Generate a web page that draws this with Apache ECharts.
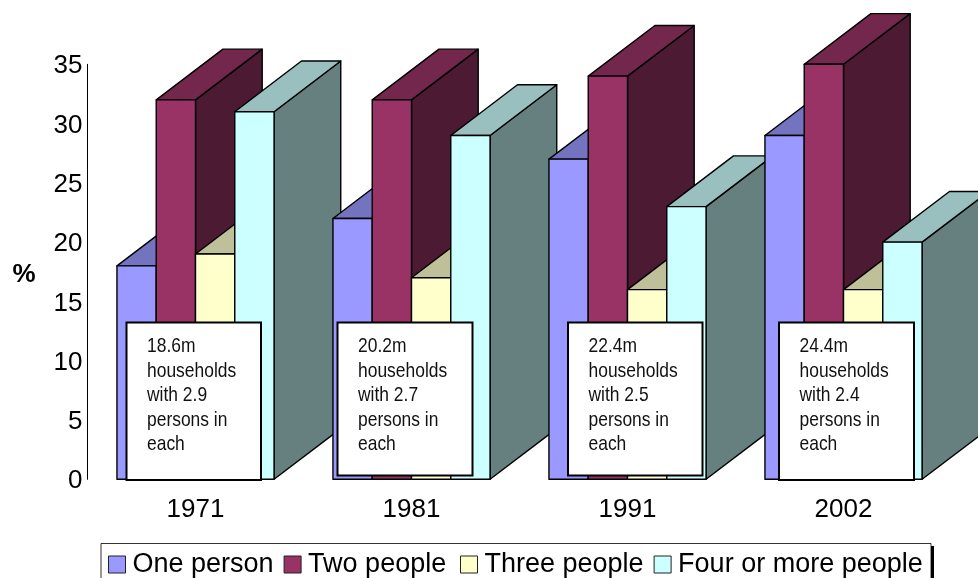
<!DOCTYPE html>
<html>
<head>
<meta charset="utf-8">
<style>html,body{margin:0;padding:0;background:#fff;overflow:hidden}#chart{width:978px;height:578px}</style>
<script src="https://cdn.jsdelivr.net/npm/echarts@6/dist/echarts.min.js"></script>
</head>
<body>
<div id="chart"></div>
<script>
// Household size by census year, share of households (%)
const years = ['1971', '1981', '1991', '2002'];
const onePerson = [18, 22, 27, 29];
const twoPeople = [32, 32, 34, 35];
const threePeople = [19, 17, 16, 16];
const fourOrMore = [31, 29, 23, 20];
const households = ['18.6m', '20.2m', '22.4m', '24.4m'];
const personsEach = ['2.9', '2.7', '2.5', '2.4'];

const seriesNames = ['One person', 'Two people', 'Three people', 'Four or more people'];
const seriesValues = [onePerson, twoPeople, threePeople, fourOrMore];
const faceColors = [
  { front: '#9999FF', top: '#7373BF', side: '#4D4D80' },
  { front: '#993366', top: '#73274D', side: '#4D1A33' },
  { front: '#FFFFCC', top: '#BFBF99', side: '#808066' },
  { front: '#CCFFFF', top: '#99BFBF', side: '#668080' }
];

// Extrusion of the bars and layout of the annotation boxes
const DEPTH_X = 66.7, DEPTH_Y = 50.7, GAP_BARS = 1.5, EDGE = 1.4;
const noteBoxes = [
  { x: 126.5, y: 322.5, w: 134.5, h: 157.5 },
  { x: 337.5, y: 322.5, w: 135, h: 153 },
  { x: 568, y: 322.5, w: 134.5, h: 153 },
  { x: 779, y: 322.5, w: 135, h: 157.5 }
];

function barRenderer(seriesIndex) {
  return function (params, api) {
    const cat = api.value(0);
    const centre = api.coord([cat, 0]);
    const topPt = api.coord([cat, api.value(1)]);
    const band = api.size([1, 0])[0];
    const w = band / (seriesValues.length + GAP_BARS);
    const x0 = centre[0] - w * seriesValues.length / 2 + seriesIndex * w;
    const x1 = x0 + w;
    const yb = centre[1], yt = topPt[1];
    const colors = faceColors[seriesIndex];
    const z2 = cat * 10 + seriesIndex;
    const edge = { stroke: '#000', lineWidth: EDGE, lineJoin: 'round' };
    const face = (points, fill) => ({
      type: 'polygon', z2: z2, shape: { points: points },
      style: Object.assign({ fill: fill }, edge)
    });
    return {
      type: 'group',
      children: [
        face([[x1, yb], [x1 + DEPTH_X, yb - DEPTH_Y], [x1 + DEPTH_X, yt - DEPTH_Y], [x1, yt]], colors.side),
        face([[x0, yt], [x1, yt], [x1 + DEPTH_X, yt - DEPTH_Y], [x0 + DEPTH_X, yt - DEPTH_Y]], colors.top),
        face([[x0, yb], [x1, yb], [x1, yt], [x0, yt]], colors.front)
      ]
    };
  };
}

const noteGraphics = [];
noteBoxes.forEach((box, i) => {
  noteGraphics.push({
    type: 'rect', z: 50, shape: { x: box.x, y: box.y, width: box.w, height: box.h },
    style: { fill: '#fff', stroke: '#000', lineWidth: 2 }
  });
  // Condensed setting of the note text
  noteGraphics.push({
    type: 'text', z: 51, x: box.x + 20.5, y: 334, scaleX: 0.83,
    style: {
      text: [households[i], 'households', 'with ' + personsEach[i], 'persons in', 'each'].join('\n'),
      font: '21px "Liberation Sans", sans-serif',
      lineHeight: 24.5, fill: '#111'
    }
  });
});

const legendBase = {
  top: 551, padding: 0, itemGap: 10, itemWidth: 17, itemHeight: 17, icon: 'rect',
  itemStyle: { borderColor: '#222', borderWidth: 1 },
  textStyle: { color: '#000', fontFamily: 'Liberation Sans', fontSize: 27, padding: [0, 0, 0, 2] }
};

const chart = echarts.init(document.getElementById('chart'), null, { renderer: 'canvas' });
chart.setOption({
  animation: false,
  backgroundColor: '#fff',
  grid: { left: 87.5, top: 64.3, width: 864, height: 415, outerBoundsMode: 'none' },
  xAxis: {
    type: 'category', data: years,
    axisLine: { show: false }, axisTick: { show: false },
    axisLabel: { color: '#000', fontFamily: 'Liberation Sans', fontSize: 26, margin: 18 }
  },
  yAxis: {
    type: 'value', min: 0, max: 35, interval: 5,
    name: '%', nameLocation: 'middle', nameRotate: 0, nameGap: 52,
    nameTextStyle: { color: '#000', fontFamily: 'Liberation Sans', fontSize: 26, fontWeight: 'bold', verticalAlign: 'top', lineHeight: 6 },
    splitLine: { show: false },
    axisTick: { show: false },
    axisLine: { show: true, lineStyle: { color: '#000', width: 1 } },
    axisLabel: { color: '#000', fontFamily: 'Liberation Sans', fontSize: 26, margin: 5, verticalAlign: 'top', lineHeight: 4 }
  },
  legend: [
    Object.assign({ left: 108, data: seriesNames.slice(0, 2) }, legendBase),
    Object.assign({ left: 460, data: seriesNames.slice(2) }, legendBase)
  ],
  graphic: noteGraphics.concat([
    {
      type: 'rect', z: 0, shape: { x: 101, y: 543.5, width: 830, height: 50 },
      style: { fill: '#fff', stroke: '#333', lineWidth: 1 }
    },
    {
      type: 'line', z: 1, shape: { x1: 932.5, y1: 546, x2: 932.5, y2: 578 },
      style: { stroke: '#000', lineWidth: 3 }
    }
  ]),
  series: seriesNames.map((name, s) => ({
    type: 'custom', name: name, coordinateSystem: 'cartesian2d',
    itemStyle: { color: faceColors[s].front },
    encode: { x: 0, y: 1 }, clip: false,
    data: seriesValues[s].map((v, i) => [i, v]),
    renderItem: barRenderer(s)
  }))
});
</script>
</body>
</html>
